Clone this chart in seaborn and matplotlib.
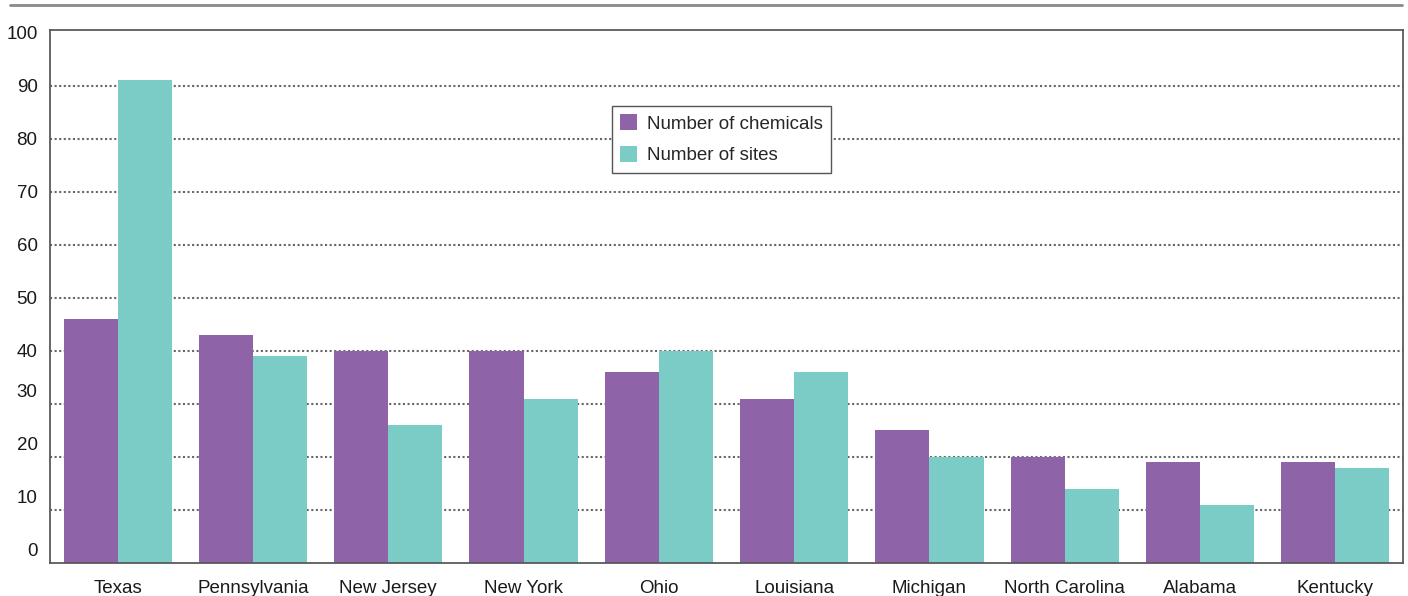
import numpy as np
import pandas as pd
import matplotlib
matplotlib.use('Agg')
import matplotlib.pyplot as plt
import matplotlib.transforms as mtransforms
from matplotlib.lines import Line2D
import seaborn as sns

# Dados
states = ['Texas', 'Pennsylvania', 'New Jersey', 'New York', 'Ohio',
          'Louisiana', 'Michigan', 'North Carolina', 'Alabama', 'Kentucky']
chemicals = [46, 43, 40, 40, 36, 31, 25, 20, 19, 19]
sites = [91, 39, 26, 31, 40, 36, 20, 14, 11, 18]
series_names = ['Number of chemicals', 'Number of sites']
y_ticks = list(range(0, 101, 10))

df = pd.DataFrame({'State': states, series_names[0]: chemicals, series_names[1]: sites})
df_long = df.melt(id_vars='State', var_name='Series', value_name='Value')

sns.set_style('white')
plt.rcParams['font.family'] = ['Liberation Sans', 'DejaVu Sans']

fig = plt.figure(figsize=(14.08, 5.96), dpi=100)
ax = fig.add_axes([50 / 1408, 33 / 596, 1353 / 1408, 533 / 596])

palette = ['#8F63A8', '#7BCBC7']
sns.barplot(data=df_long, x='State', y='Value', hue='Series', palette=palette,
            width=0.8, saturation=1, ax=ax, errorbar=None,
            edgecolor='none', linewidth=0, zorder=3)

ax.set_xlim(-0.5, len(states) - 0.5)
ax.set_ylim(0, 100.5)
ax.set_yticks(y_ticks)
ax.set_yticklabels([str(v) for v in y_ticks])
ax.set_xlabel('')
ax.set_ylabel('')

# grade pontilhada só nas linhas internas
ax.grid(False)
for v in y_ticks[1:-1]:
    ax.axhline(v, color='#666666', linestyle=(0, (1, 1.2)), linewidth=1.5, zorder=1)

for side in ['left', 'right', 'top', 'bottom']:
    ax.spines[side].set_visible(True)
    ax.spines[side].set_color('#5a5a5a')
    ax.spines[side].set_linewidth(1.3)
    ax.spines[side].set_zorder(5)

ax.tick_params(axis='both', length=0, labelsize=13.5, labelcolor='#1a1a1a')
ax.tick_params(axis='y', pad=9)
ax.tick_params(axis='x', pad=12)

# rótulos de 0 a 30 aparecem deslocados para cima no original
offset = mtransforms.ScaledTranslation(0, 13 / 100, fig.dpi_scale_trans)
for lbl, v in zip(ax.get_yticklabels(), y_ticks):
    if v <= 30:
        lbl.set_transform(lbl.get_transform() + offset)

leg = ax.legend(loc='upper left', bbox_to_anchor=((612 - 50) / 1353, (563 - 106) / 533),
                borderaxespad=0, frameon=True, fancybox=False, fontsize=13.5,
                handlelength=0.9, handleheight=0.9, handletextpad=0.5,
                labelspacing=0.72, borderpad=0.45)
leg.get_frame().set_edgecolor('#555555')
leg.get_frame().set_linewidth(1.0)
leg.get_frame().set_alpha(1)
leg.set_zorder(6)

# linha cinza no topo
fig.add_artist(Line2D([10 / 1408, 1402 / 1408], [1 - 5 / 596, 1 - 5 / 596],
                      color='#8a8a8a', linewidth=2, transform=fig.transFigure))

fig.savefig('out.png', dpi=100)
